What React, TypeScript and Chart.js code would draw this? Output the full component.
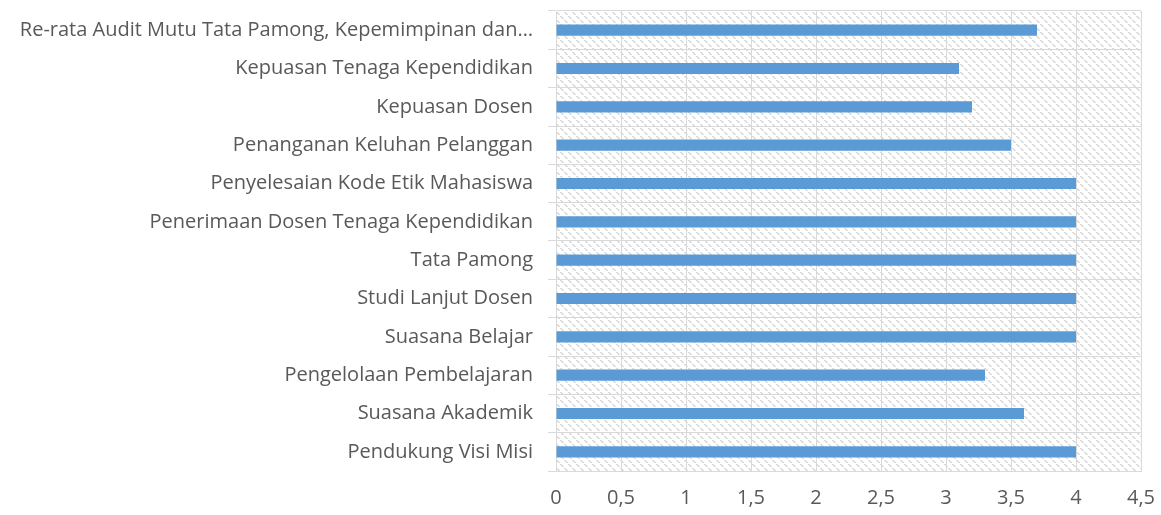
import React, { useEffect, useRef } from "react";
import { Chart, registerables } from "chart.js";
Chart.register(...registerables);

const categories: string[] = [
  "Re-rata Audit Mutu Tata Pamong, Kepemimpinan dan…",
  "Kepuasan Tenaga Kependidikan",
  "Kepuasan Dosen",
  "Penanganan Keluhan Pelanggan",
  "Penyelesaian Kode Etik Mahasiswa",
  "Penerimaan Dosen Tenaga Kependidikan",
  "Tata Pamong",
  "Studi Lanjut Dosen",
  "Suasana Belajar",
  "Pengelolaan Pembelajaran",
  "Suasana Akademik",
  "Pendukung Visi Misi",
];
const values: number[] = [3.7, 3.1, 3.2, 3.5, 4, 4, 4, 4, 4, 3.3, 3.6, 4];
const xMin = 0;
const xMax = 4.5;
const xStep = 0.5;

const FONT = "'Open Sans', sans-serif";

const hatchPlugin = {
  id: "hatch",
  beforeDraw(chart: any) {
    const { ctx, chartArea } = chart;
    if (!chartArea) return;
    const p = document.createElement("canvas");
    p.width = 8;
    p.height = 8;
    const pc = p.getContext("2d")!;
    pc.fillStyle = "#dadada";
    for (let i = 0; i < 8; i++) {
      if (i % 4 === 3) continue;
      pc.fillRect(i, i, 2, 1);
    }
    const pat = ctx.createPattern(p, "repeat");
    const w = chartArea.right - chartArea.left;
    const h = chartArea.bottom - chartArea.top;
    ctx.save();
    ctx.fillStyle = "#ffffff";
    ctx.fillRect(chartArea.left, chartArea.top, w, h);
    ctx.fillStyle = pat;
    ctx.fillRect(chartArea.left, chartArea.top, w, h);
    ctx.restore();
  },
};

export default function App() {
  const ref = useRef<HTMLCanvasElement | null>(null);
  useEffect(() => {
    if (!ref.current) return;
    const chart = new Chart(ref.current, {
      type: "bar",
      data: {
        labels: categories,
        datasets: [
          {
            data: values,
            backgroundColor: "#5b9bd5",
            borderWidth: 0,
            barPercentage: 0.29,
            categoryPercentage: 1,
          },
        ],
      },
      options: {
        indexAxis: "y",
        animation: false,
        responsive: false,
        maintainAspectRatio: false,
        layout: { padding: { top: 11, right: 20, left: 0, bottom: 0 } },
        plugins: { legend: { display: false }, tooltip: { enabled: false } },
        scales: {
          x: {
            min: xMin,
            max: xMax,
            ticks: {
              stepSize: xStep,
              color: "#595959",
              font: { family: FONT, size: 20 },
              padding: 15,
              callback: (v: any) => String(v).replace(".", ","),
            },
            grid: { color: "#d9d9d9", drawTicks: false },
            border: { color: "#d9d9d9" },
            afterFit: (s: any) => {
              s.height = 44;
              s.paddingLeft = 0;
              s.paddingRight = 0;
            },
          },
          y: {
            ticks: {
              color: "#595959",
              font: { family: FONT, size: 20 },
              padding: 15,
              autoSkip: false,
            },
            grid: { color: "#d9d9d9", offset: true, tickLength: 8 },
            border: { color: "#d9d9d9" },
            afterFit: (s: any) => {
              s.width = 556;
              s.paddingTop = 0;
              s.paddingBottom = 0;
            },
          },
        },
      },
      plugins: [hatchPlugin],
    } as any);
    return () => chart.destroy();
  }, []);
  return (
    <div style={{ position: "fixed", left: 0, top: 0, width: 1161, height: 515, background: "#fff" }}>
      <canvas ref={ref} width={1161} height={515} />
    </div>
  );
}
